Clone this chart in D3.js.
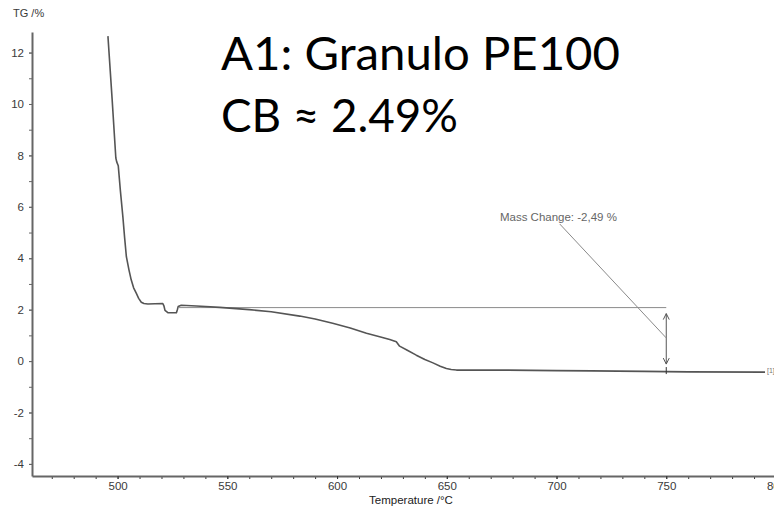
<!DOCTYPE html>
<html>
<head>
<meta charset="utf-8">
<script src="https://cdn.jsdelivr.net/npm/d3@7"></script>
<style>
  body { margin: 0; background: #fff; }
  svg { display: block; }
</style>
</head>
<body>
<svg id="chart"></svg>
<script>
// TG curve (temperature in °C, mass in %)
const temperature = [495.6, 497.5, 499.2, 499.6, 500.3, 501.3, 502.4, 503.2, 504.0, 505.2, 506.2, 507.3, 508.5, 509.6,
  510.8, 512, 513.8, 517, 520.6, 521.1, 521.6, 522.9, 526.8, 527.3, 527.6, 529.0, 535.9, 546.5, 560, 570, 583,
  590, 598, 606, 613.4, 619.4, 624, 627.0, 628.5, 632, 636.1, 640, 643.7, 647, 649.8, 652, 654.4, 665, 674.1,
  700, 716, 740, 760, 795];
const tg = [12.64, 10.2, 7.9, 7.75, 7.6, 6.6, 5.62, 4.8, 4.06, 3.54, 3.16, 2.85, 2.64, 2.44,
  2.29, 2.24, 2.22, 2.23, 2.24, 2.15, 1.97, 1.88, 1.88, 2.02, 2.12, 2.17, 2.14, 2.09, 2.0, 1.92, 1.75,
  1.64, 1.47, 1.29, 1.08, 0.95, 0.84, 0.75, 0.58, 0.42, 0.23, 0.06, -0.07, -0.2, -0.29, -0.33, -0.35, -0.35, -0.35,
  -0.37, -0.38, -0.40, -0.42, -0.43];

const xMajorTicks = [500, 550, 600, 650, 700, 750, 800];
const yMajorTicks = [-4, -2, 0, 2, 4, 6, 8, 10, 12];

// mass change step annotation
const stepStart = 528;       // °C where the upper level line starts
const stepAt = 750;          // °C of the double arrow
const stepLevels = [2.08, -0.35];
const stepLabel = 'Mass Change: -2,49 %';
const labelPos = [674.2, 5.45];   // T, TG of the label start
const leader = [[701.5, 5.33], [750, 0.9]];

const titleLines = ['A1: Granulo PE100', 'CB \u2248 2.49%'];

const W = 774, H = 508;
const svg = d3.select('#chart').attr('width', W).attr('height', H);

const x = d3.scaleLinear().domain([461, 800]).range([32, 776]);
const y = d3.scaleLinear().domain([-4.47, 12.8]).range([476, 32]);

const axisColor = '#666';
const textColor = '#3a3a3a';
const tickFont = '11.5px "Liberation Sans", Arial, sans-serif';

// y axis: minor every 1, labels every 2
const yMinor = svg.append('g').attr('transform', 'translate(32,0)')
  .call(d3.axisLeft(y).tickValues(d3.range(-4, 13, 1)).tickSize(3).tickFormat(''));
yMinor.select('.domain').remove();
yMinor.selectAll('line').attr('stroke', axisColor);

const yAxis = svg.append('g').attr('transform', 'translate(32,0)')
  .call(d3.axisLeft(y).tickValues(yMajorTicks).tickSize(3).tickPadding(5).tickSizeOuter(0)
    .tickFormat(d => String(d)));
yAxis.select('.domain').attr('stroke', axisColor).attr('stroke-width', 2);
yAxis.selectAll('line').attr('stroke', axisColor);
yAxis.selectAll('text').style('font', tickFont).attr('fill', textColor);

// x axis: minor every 10, labels every 50
const xMinor = svg.append('g').attr('transform', 'translate(0,476)')
  .call(d3.axisBottom(x).tickValues(d3.range(470, 801, 10)).tickSize(3).tickFormat(''));
xMinor.select('.domain').remove();
xMinor.selectAll('line').attr('stroke', '#333');

const xAxis = svg.append('g').attr('transform', 'translate(0,476)')
  .call(d3.axisBottom(x).tickValues(xMajorTicks).tickSize(3).tickPadding(3).tickSizeOuter(0)
    .tickFormat(d => String(d)));
xAxis.select('.domain').attr('stroke', axisColor).attr('stroke-width', 2);
xAxis.selectAll('line').attr('stroke', '#333');
xAxis.selectAll('text').style('font', tickFont).attr('fill', textColor);

// axis titles
svg.append('text').attr('x', 13).attr('y', 17)
  .style('font', '11px "Liberation Sans", Arial, sans-serif').attr('fill', textColor)
  .text('TG /%');
svg.append('text').attr('x', 411).attr('y', 504).attr('text-anchor', 'middle')
  .style('font', '11.5px "Liberation Sans", Arial, sans-serif').attr('fill', '#222')
  .text('Temperature /\u00b0C');

// mass change annotation
const ann = svg.append('g').attr('stroke', '#8a8a8a').attr('stroke-width', 1).attr('fill', 'none');
ann.append('line')
  .attr('x1', x(stepStart)).attr('x2', x(stepAt))
  .attr('y1', y(stepLevels[0])).attr('y2', y(stepLevels[0]));

const ax = x(stepAt);
const aTop = y(stepLevels[0]) + 6, aBot = y(stepLevels[1]) - 6;
ann.append('line').attr('x1', ax).attr('x2', ax).attr('y1', aTop).attr('y2', aBot).attr('stroke', '#555');
ann.append('path').attr('stroke', '#555')
  .attr('d', `M${ax - 3},${aTop + 6}L${ax},${aTop}L${ax + 3},${aTop + 6}`);
ann.append('path').attr('stroke', '#555')
  .attr('d', `M${ax - 3},${aBot - 6}L${ax},${aBot}L${ax + 3},${aBot - 6}`);

ann.append('line')
  .attr('x1', x(leader[0][0])).attr('y1', y(leader[0][1]))
  .attr('x2', x(leader[1][0])).attr('y2', y(leader[1][1]));

svg.append('text').attr('x', x(labelPos[0])).attr('y', y(labelPos[1]))
  .style('font', '11.5px "Liberation Sans", Arial, sans-serif').attr('fill', '#666')
  .text(stepLabel);

// the TG curve
const line = d3.line().x((d, i) => x(temperature[i])).y(d => y(d));
svg.append('path').datum(tg)
  .attr('d', line)
  .attr('fill', 'none')
  .attr('stroke', '#555')
  .attr('stroke-width', 1.6)
  .attr('stroke-linejoin', 'round');

// cross mark where the step is read on the curve
svg.append('line')
  .attr('x1', ax).attr('x2', ax)
  .attr('y1', y(stepLevels[1]) - 3).attr('y2', y(stepLevels[1]) + 4)
  .attr('stroke', '#333').attr('stroke-width', 1);

// curve tag
svg.append('text').attr('x', x(temperature[temperature.length - 1]) + 2).attr('y', y(tg[tg.length - 1]) + 1)
  .style('font', '7px "Liberation Sans", Arial, sans-serif').attr('fill', '#777')
  .text('[1]');

// slide title
const title = svg.append('g')
  .style('font-family', 'Lato, "Open Sans", sans-serif').style('font-size', '46px').attr('fill', '#000');
title.append('text').attr('x', 221).attr('y', 70)
  .attr('textLength', 399).attr('lengthAdjust', 'spacingAndGlyphs').text(titleLines[0]);
title.append('text').attr('x', 221).attr('y', 131.5)
  .attr('textLength', 237).attr('lengthAdjust', 'spacingAndGlyphs').text(titleLines[1]);
</script>
</body>
</html>
